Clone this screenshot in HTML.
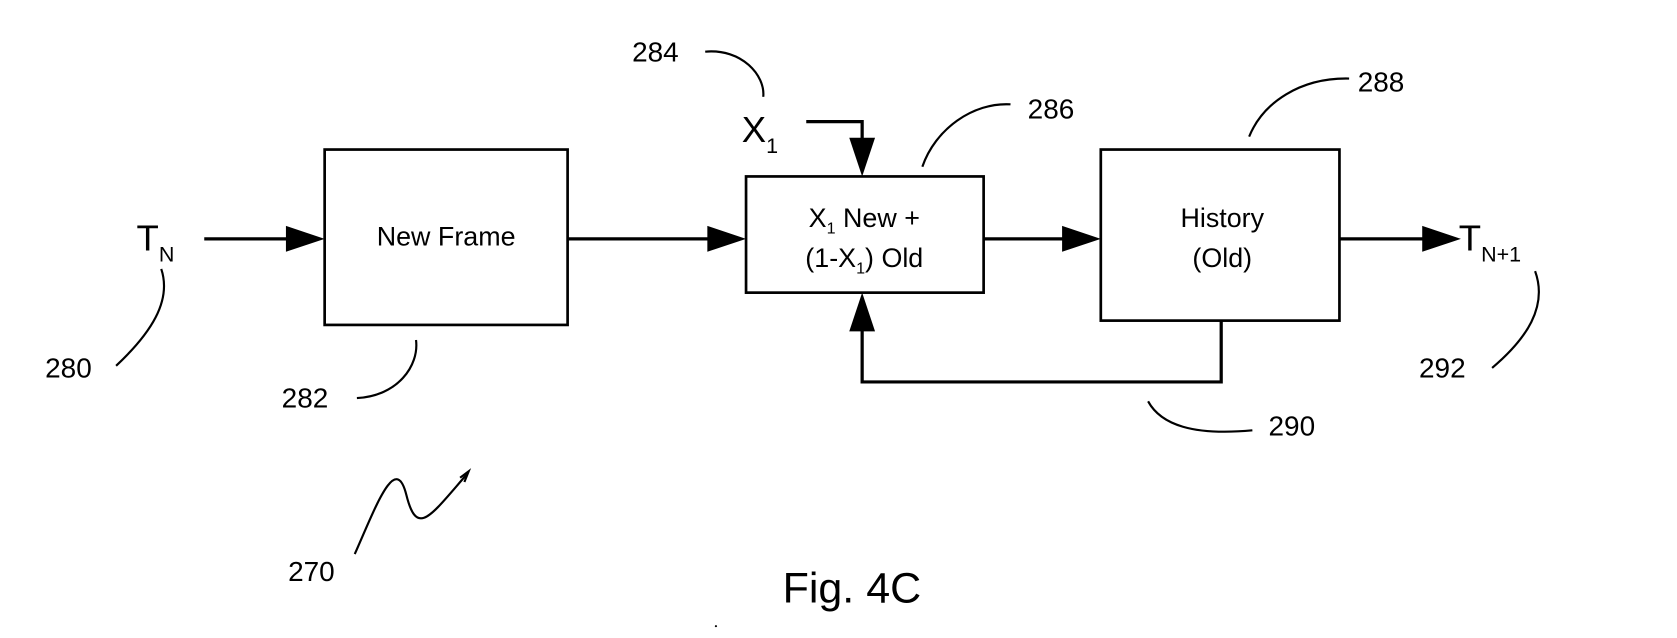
<!DOCTYPE html>
<html><head><style>
html,body{margin:0;padding:0;background:#fff;}
svg{display:block;}
text{font-family:"Liberation Sans",Arial,sans-serif;fill:#000;}
</style></head><body>
<svg width="1677" height="638" viewBox="0 0 1560 593" preserveAspectRatio="none" xmlns="http://www.w3.org/2000/svg">
<defs><marker id="a" markerWidth="10" markerHeight="10" refX="9" refY="5" orient="auto" markerUnits="userSpaceOnUse" viewBox="0 0 10 10"><path d="M0,0 L10,5 L0,10z" fill="#000"/></marker></defs>
<g fill="none" stroke="#000" stroke-width="2.5">
<rect x="302" y="139" width="226" height="163"/>
<rect x="694" y="164" width="221" height="108"/>
<rect x="1024" y="139" width="222" height="159"/>
</g>
<g stroke="#000" stroke-width="3" fill="none">
<line x1="190" y1="222" x2="268" y2="222"/>
<path d="M266,210 L302,222 L266,234z" fill="#000" stroke="none"/>
<line x1="528" y1="222" x2="660" y2="222"/>
<path d="M658,210 L694,222 L658,234z" fill="#000" stroke="none"/>
<line x1="915" y1="222" x2="990" y2="222"/>
<path d="M988,210 L1024,222 L988,234z" fill="#000" stroke="none"/>
<line x1="1246" y1="222" x2="1325" y2="222"/>
<path d="M1323,210 L1359,222 L1323,234z" fill="#000" stroke="none"/>
<polyline points="750,113 802,113 802,130"/>
<path d="M790,128 L802,164 L814,128z" fill="#000" stroke="none"/>
<polyline points="1136,298 1136,355 802,355 802,306"/>
<path d="M790,308 L802,272 L814,308z" fill="#000" stroke="none"/>
</g>
<g stroke="#000" stroke-width="2" fill="none">
<path d="M656,48 C690,45 712,70 710,90"/>
<path d="M858,155 C870,120 905,95 940,97"/>
<path d="M1162,127 C1175,95 1210,72 1255,73"/>
<path d="M108,340 C140,310 160,280 150,250"/>
<path d="M332,370 C370,368 390,340 387,316"/>
<path d="M1068,373 C1080,395 1110,405 1165,400"/>
<path d="M1388,342 C1420,315 1440,285 1428,252"/>
<path d="M330,515 C350,470 368,420 378,460 C388,500 400,480 435,440"/>
<path d="M428,444 L436,438 L432,448"/>
</g>
<text x="588" y="57" font-size="26">284</text>
<text x="690" y="132" font-size="34">X<tspan font-size="20" dy="10">1</tspan></text>
<text x="956" y="110" font-size="26">286</text>
<text x="1263" y="85" font-size="26">288</text>
<text x="127" y="233" font-size="34">T<tspan font-size="20" dy="10">N</tspan></text>
<text x="1357" y="233" font-size="34">T<tspan font-size="20" dy="10">N+1</tspan></text>
<text x="415" y="228" font-size="25" text-anchor="middle">New Frame</text>
<text x="804" y="211" font-size="25" text-anchor="middle">X<tspan font-size="15" dy="6">1</tspan><tspan dy="-6"> New +</tspan></text>
<text x="804" y="248" font-size="25" text-anchor="middle">(1-X<tspan font-size="15" dy="6">1</tspan><tspan dy="-6">) Old</tspan></text>
<text x="1137" y="211" font-size="25" text-anchor="middle">History</text>
<text x="1137" y="248" font-size="25" text-anchor="middle">(Old)</text>
<text x="42" y="351" font-size="26">280</text>
<text x="262" y="379" font-size="26">282</text>
<text x="1180" y="405" font-size="26">290</text>
<text x="1320" y="351" font-size="26">292</text>
<text x="268" y="540" font-size="26">270</text>
<text x="728" y="560" font-size="40">Fig. 4C</text>
<circle cx="666" cy="582" r="1" fill="#000"/>
</svg>
</body></html>
